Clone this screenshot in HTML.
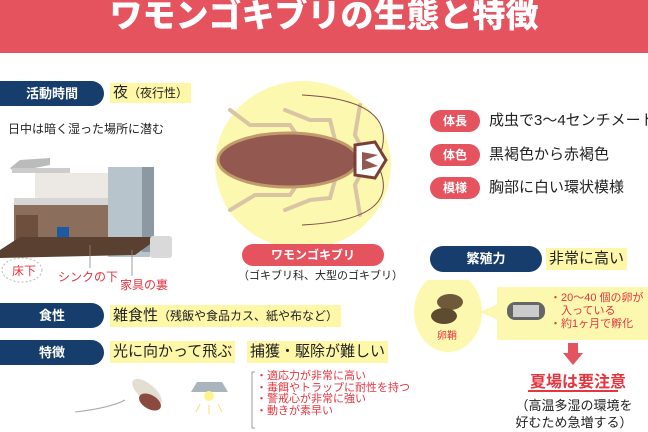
<!DOCTYPE html>
<html><head><meta charset="utf-8"><style>
body{margin:0;width:648px;height:432px;overflow:hidden;background:#fff;position:relative;font-family:"Liberation Sans","Noto Sans CJK JP",sans-serif;}
.a{position:absolute;white-space:nowrap;}
.nav{position:absolute;background:#163d6b;color:#fff;font-weight:bold;font-size:13px;border-radius:0 13px 13px 0;text-align:center;}
.red{position:absolute;background:#e5535f;color:#fff;font-weight:bold;font-size:12px;border-radius:11px;text-align:center;}
.hl{position:absolute;background:#fff7a8;font-size:15px;color:#222;white-space:nowrap;padding:0 3px;}
.t{position:absolute;font-size:15px;color:#222;white-space:nowrap;}
</style></head><body>
<div class="a" style="left:0;top:0;width:648px;height:53px;background:#e5535f;"></div>
<div class="a" style="left:0;top:-9px;width:648px;text-align:center;color:#fff;font-weight:900;font-size:33px;line-height:50px;">ワモンゴキブリの生態と特徴</div>

<div class="nav" style="left:0;top:81px;width:104px;height:25px;line-height:25px;">活動時間</div>
<div class="hl" style="left:110px;top:83px;height:20px;line-height:20px;">夜<span style="font-size:12px">（夜行性）</span></div>
<div class="a" style="left:8px;top:120px;font-size:12px;color:#222;">日中は暗く湿った場所に潜む</div>

<svg class="a" style="left:0;top:140px" width="200" height="150">
<polygon points="20,20 50,18 50,25 14,32 10,28" fill="#bbb"/>
<rect x="12" y="28" width="58" height="5" fill="#ccc"/>
<rect x="35" y="33" width="75" height="32" fill="#ece8e4"/>
<rect x="14" y="60" width="95" height="50" fill="#8c6e5c"/>
<rect x="14" y="58" width="95" height="7" fill="#d6d6d6"/>
<rect x="16" y="75" width="22" height="28" fill="#6e4e3c"/>
<rect x="57" y="87" width="12" height="16" fill="#1d5aa6"/>
<rect x="108" y="27" width="42" height="90" fill="#b8c4cc"/>
<rect x="142" y="27" width="12" height="85" fill="#8d99a2"/>
<polygon points="0,110 20,97 160,97 135,115 0,118" fill="#5a4030"/>
<rect x="150" y="96" width="22" height="22" rx="3" fill="#d9d9d9"/>
<line x1="90" y1="105" x2="90" y2="128" stroke="#888" stroke-width="0.8"/>
<line x1="132" y1="110" x2="132" y2="136" stroke="#888" stroke-width="0.8"/>
<ellipse cx="22" cy="130" rx="20" ry="12" fill="none" stroke="#bbb" stroke-dasharray="2,2"/>
</svg>
<div class="a" style="left:12px;top:262px;font-size:12px;color:#e5353f;">床下</div>
<div class="a" style="left:58px;top:268px;font-size:12px;color:#e5353f;">シンクの下</div>
<div class="a" style="left:120px;top:276px;font-size:12px;color:#e5353f;">家具の裏</div>

<svg class="a" style="left:200px;top:80px" width="220" height="170">
<ellipse cx="103" cy="85" rx="88" ry="84" fill="#fdf8b0"/>
<g stroke="#d9c4a4" stroke-width="4" fill="none" stroke-linecap="round">
<path d="M30,30 L50,45 L90,45 L100,60"/><path d="M85,30 L110,40 L130,40 L135,60"/>
<path d="M160,25 L155,55 L160,65"/><path d="M30,130 L55,115 L90,115 L100,100"/>
<path d="M85,130 L110,120 L130,118 L135,100"/><path d="M160,135 L155,105 L160,95"/>
</g>
<path d="M102,15 Q200,20 180,75" stroke="#7a5048" fill="none"/>
<path d="M102,145 Q200,140 180,90" stroke="#7a5048" fill="none"/>
<ellipse cx="88" cy="80" rx="70" ry="27" fill="#93584f" stroke="#c19a6b" stroke-width="3"/>
<path d="M155,65 L175,62 L186,80 L175,98 L155,95 Z" fill="#fff" stroke="#7a4038" stroke-width="3"/>
<path d="M162,72 L178,75 L165,80 L178,86 L162,90Z" fill="#93584f"/>
</svg>
<div class="red" style="left:242px;top:244px;width:142px;height:22px;line-height:22px;">ワモンゴキブリ</div>
<div class="a" style="left:238px;top:267px;font-size:11px;color:#222;">（ゴキブリ科、大型のゴキブリ）</div>

<div class="red" style="left:430px;top:110px;width:50px;height:22px;line-height:22px;">体長</div>
<div class="t" style="left:489px;top:110px;line-height:22px;">成虫で3～4センチメートル</div>
<div class="red" style="left:430px;top:144px;width:50px;height:22px;line-height:22px;">体色</div>
<div class="t" style="left:489px;top:144px;line-height:22px;">黒褐色から赤褐色</div>
<div class="red" style="left:430px;top:177px;width:50px;height:22px;line-height:22px;">模様</div>
<div class="t" style="left:489px;top:177px;line-height:22px;">胸部に白い環状模様</div>

<div class="nav" style="left:430px;top:246px;width:112px;height:26px;line-height:26px;border-radius:13px;">繁殖力</div>
<div class="hl" style="left:546px;top:248px;height:22px;line-height:22px;">非常に高い</div>

<svg class="a" style="left:410px;top:280px" width="238" height="100">
<ellipse cx="38" cy="32" rx="34" ry="40" fill="#fdf8b0"/>
<polygon points="70,32 88,24 88,40" fill="#fdf8b0"/>
<rect x="87" y="7" width="151" height="53" fill="#fdf8b0"/>
<ellipse cx="40" cy="22" rx="13" ry="8" fill="#6e5a3a"/>
<ellipse cx="34" cy="36" rx="13" ry="8" fill="#5e4c30"/>
<rect x="97" y="22" width="38" height="18" rx="8" fill="#666"/>
<rect x="103" y="25" width="26" height="12" fill="#ccc"/>
<polygon points="158,63 168,63 168,73 173,73 163,85 153,73 158,73" fill="#e5535f"/>
</svg>
<div class="a" style="left:437px;top:327px;font-size:10px;color:#e5353f;">卵鞘</div>
<div class="a" style="left:550px;top:292px;font-size:11px;line-height:13px;color:#e5353f;">・20～40 個の卵が<br>　入っている<br>・約1ヶ月で孵化</div>
<div class="a" style="left:530px;top:368px;font-size:16px;font-weight:bold;color:#e5353f;">夏場は要注意</div>
<div class="a" style="left:528px;top:390px;width:90px;height:2px;background:#e5353f;"></div>
<div class="a" style="left:514px;top:397px;width:120px;font-size:13px;line-height:17px;color:#222;text-align:center;">（高温多湿の環境を<br>好むため急増する）</div>

<div class="nav" style="left:0;top:303px;width:104px;height:25px;line-height:25px;">食性</div>
<div class="hl" style="left:110px;top:305px;height:22px;line-height:22px;">雑食性<span style="font-size:12px">（残飯や食品カス、紙や布など）</span></div>
<div class="nav" style="left:0;top:340px;width:104px;height:25px;line-height:25px;">特徴</div>
<div class="hl" style="left:110px;top:341px;height:22px;line-height:22px;">光に向かって飛ぶ</div>
<div class="hl" style="left:247px;top:341px;height:22px;line-height:22px;">捕獲・駆除が難しい</div>

<svg class="a" style="left:70px;top:370px" width="190" height="62">
<path d="M5,42 Q40,38 55,30" stroke="#aaa" fill="none"/>
<ellipse cx="77" cy="22" rx="18" ry="8" fill="#e4ddd2" transform="rotate(40 77 22)"/>
<ellipse cx="80" cy="32" rx="12" ry="7" fill="#8a4a40" transform="rotate(30 80 32)"/>
<polygon points="127,12 152,12 158,22 121,22" fill="#aab4bc"/>
<circle cx="139" cy="26" r="5" fill="#fff38a"/>
<g stroke="#f0e070"><line x1="130" y1="34" x2="126" y2="42"/><line x1="139" y1="35" x2="139" y2="44"/><line x1="148" y1="34" x2="152" y2="42"/></g>
<path d="M185,2 L182,2 L182,58 L185,58" stroke="#999" fill="none"/>
</svg>
<div class="a" style="left:256px;top:371px;font-size:11px;line-height:11.5px;color:#e5353f;">・適応力が非常に高い<br>・毒餌やトラップに耐性を持つ<br>・警戒心が非常に強い<br>・動きが素早い</div>
</body></html>
